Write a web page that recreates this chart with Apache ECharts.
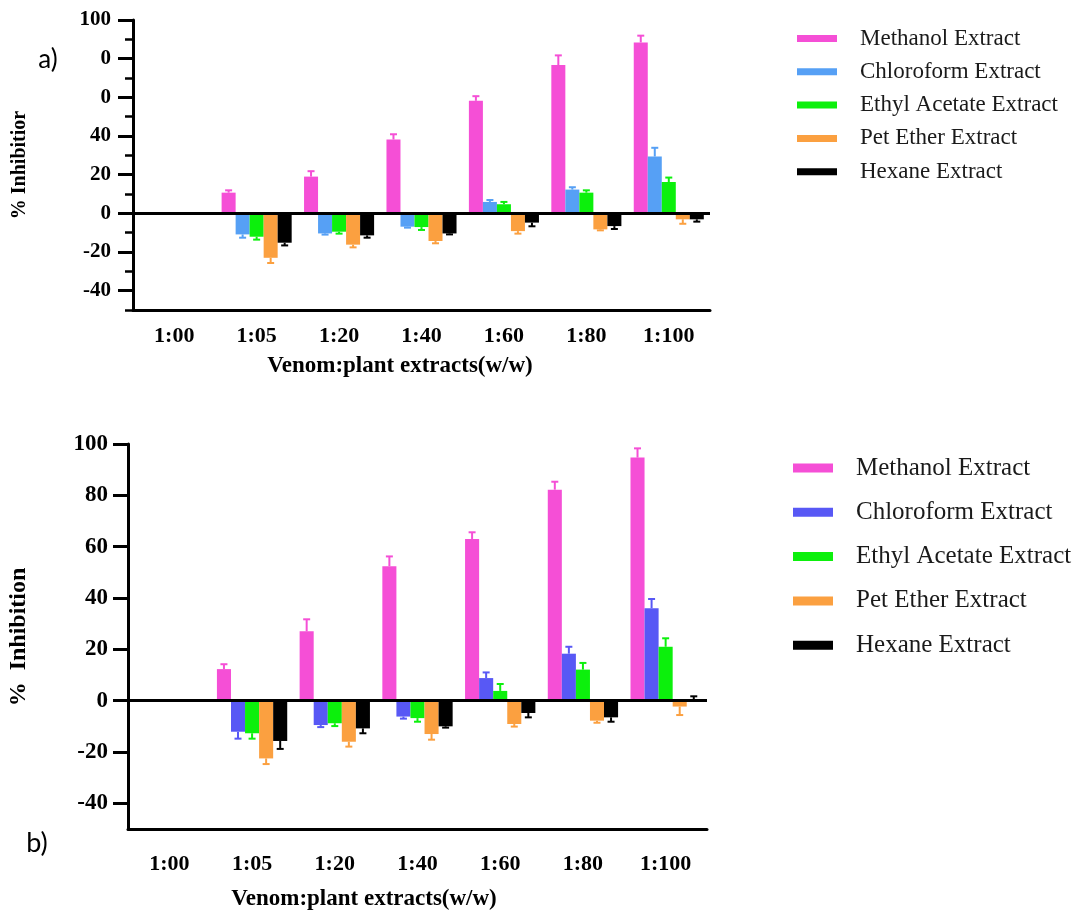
<!DOCTYPE html>
<html>
<head>
<meta charset="utf-8">
<script src="https://cdn.jsdelivr.net/npm/echarts@6/dist/echarts.min.js"></script>
<style>
  html, body { margin: 0; padding: 0; background: #fff; }
  #chartA { position: absolute; left: 0; top: 0; width: 1074px; height: 420px; }
  #chartB { position: absolute; left: 0; top: 420px; width: 1074px; height: 495px; }
</style>
</head>
<body>
<div id="chartA"></div>
<div id="chartB"></div>
<script>
const ratios = ['1:00', '1:05', '1:20', '1:40', '1:60', '1:80', '1:100']
const extractNames = ['Methanol Extract', 'Chloroform Extract', 'Ethyl Acetate Extract', 'Pet Ether Extract', 'Hexane Extract']

// panel a)
const methanolA = [null, 10.7, 19.0, 38.2, 58.2, 76.7, 88.4]
const methanolErrA = [null, 1.2, 2.8, 2.7, 2.4, 5.0, 3.5]
const chloroformA = [null, -10.9, -10.4, -6.9, 5.9, 12.3, 29.4]
const chloroformErrA = [null, 1.7, 0.6, 0.5, 1.0, 1.2, 4.5]
const ethylA = [null, -12.1, -9.5, -7.1, 4.7, 10.7, 16.2]
const ethylErrA = [null, 1.5, 1.0, 1.5, 1.2, 1.2, 2.3]
const petA = [null, -23.0, -16.2, -14.3, -9.2, -8.3, -3.1]
const petErrA = [null, 2.7, 1.4, 1.2, 1.3, 0.5, 2.3]
const hexaneA = [null, -15.2, -11.4, -10.4, -4.8, -6.6, -3.1]
const hexaneErrA = [null, 1.4, 1.2, 0.5, 1.9, 1.5, 1.2]

// panel b)
const methanolB = [null, 12.3, 27.0, 52.4, 63.0, 82.2, 94.7]
const methanolErrB = [null, 1.9, 4.7, 3.8, 2.6, 3.1, 3.6]
const chloroformB = [null, -12.1, -9.5, -6.2, 8.8, 18.3, 36.0]
const chloroformErrB = [null, 2.7, 0.8, 0.8, 2.2, 2.7, 3.6]
const ethylB = [null, -12.7, -8.8, -6.8, 3.8, 12.1, 21.0]
const ethylErrB = [null, 2.1, 1.1, 1.4, 2.7, 2.6, 3.3]
const petB = [null, -22.5, -16.0, -13.0, -9.1, -7.8, -2.3]
const petErrB = [null, 2.2, 1.9, 2.2, 1.0, 0.8, 3.3]
const hexaneB = [null, -15.7, -10.8, -10.0, -4.8, -6.5, 0.3]
const hexaneErrB = [null, 3.1, 1.9, 0.5, 1.7, 1.7, 1.4]

const yTickValues = [-40, -20, 0, 20, 40, 60, 80, 100]
const yTickLabelsA = ['-40', '-20', '0', '20', '40', '0', '0', '100']
const yTickLabelsB = ['-40', '-20', '0', '20', '40', '60', '80', '100']

const colorsA = ['#f54fd6', '#56a0f5', '#0cf00c', '#fba040', '#000000']
const colorsB = ['#f54fd6', '#5858f5', '#0cf00c', '#fba040', '#000000']

const serif = 'Liberation Serif'
const BAR_SHARE = 0.17

function buildOption(cfg) {
  const errData = []
  cfg.values.forEach((vals, s) => {
    vals.forEach((v, j) => {
      if (v !== null) errData.push([j, v, cfg.errors[s][j], s])
    })
  })

  const bars = cfg.values.map((vals, s) => ({
    name: extractNames[s],
    type: 'bar',
    data: vals,
    barWidth: BAR_SHARE * 100 + '%',
    barGap: '0%',
    itemStyle: { color: cfg.colors[s] },
    markLine: s === 0 ? {
      silent: true,
      symbol: 'none',
      label: { show: false },
      lineStyle: { color: '#000', width: 3, type: 'solid' },
      data: [{ yAxis: 0 }]
    } : undefined
  }))

  return {
    animation: false,
    grid: cfg.grid,
    legend: {
      data: extractNames,
      orient: 'vertical',
      left: cfg.legend.left,
      top: cfg.legend.top,
      padding: 0,
      icon: 'rect',
      itemWidth: 40,
      itemHeight: cfg.legend.symbolHeight,
      itemGap: cfg.legend.gap,
      textStyle: {
        fontFamily: serif,
        fontSize: cfg.legend.fontSize,
        lineHeight: cfg.legend.lineHeight,
        color: '#1a1a1a',
        padding: [0, 0, 0, 18]
      }
    },
    xAxis: {
      type: 'category',
      data: ratios,
      boundaryGap: true,
      axisLine: { onZero: false, lineStyle: { color: '#000', width: 3 } },
      axisTick: { alignWithLabel: true, length: cfg.xTickLen, lineStyle: { color: '#000', width: 3 } },
      axisLabel: {
        color: '#000', fontFamily: serif, fontWeight: 'bold',
        fontSize: cfg.xFont, margin: cfg.xMargin
      }
    },
    yAxis: [
      {
        type: 'value', min: -50, max: 100, interval: 10,
        axisLine: { show: true, lineStyle: { color: '#000', width: 3 } },
        axisTick: { show: true, customValues: yTickValues, length: 15, lineStyle: { color: '#000', width: 3 } },
        axisLabel: {
          customValues: yTickValues,
          formatter: (v) => cfg.yLabels[yTickValues.indexOf(v)],
          color: '#000', fontFamily: serif, fontWeight: 'bold',
          fontSize: cfg.yFont, margin: cfg.yMargin
        },
        splitLine: { show: false }
      },
      {
        type: 'value', min: -50, max: 100, interval: 10, position: 'left',
        axisLine: { show: false },
        axisTick: { show: cfg.minorTicks, length: 8, lineStyle: { color: '#000', width: 2.5 } },
        axisLabel: { show: false },
        splitLine: { show: false }
      }
    ],
    graphic: [
      {
        type: 'text', x: cfg.tag.x, y: cfg.tag.y,
        style: { text: cfg.tag.text, font: cfg.tag.size + 'px Lato', fill: '#000', textAlign: 'center', textVerticalAlign: 'middle' }
      },
      {
        type: 'text', x: cfg.yTitle.x, y: cfg.yTitle.y, rotation: Math.PI / 2,
        style: { text: cfg.yTitle.text, font: 'bold ' + cfg.yTitle.size + 'px "' + serif + '"', fill: '#000', textAlign: 'center', textVerticalAlign: 'middle' }
      },
      {
        type: 'text', x: cfg.xTitle.x, y: cfg.xTitle.y,
        style: { text: 'Venom:plant extracts(w/w)', font: 'bold ' + cfg.xTitle.size + 'px "' + serif + '"', fill: '#000', textAlign: 'center', textVerticalAlign: 'middle' }
      }
    ],
    series: bars.concat([{
      type: 'custom',
      name: 'error',
      data: errData,
      encode: { x: 0, y: 1 },
      z: 3,
      silent: true,
      renderItem(params, api) {
        const j = api.value(0)
        const v = api.value(1)
        const e = api.value(2)
        const s = api.value(3)
        const band = api.size([1, 0])[0]
        const x = api.coord([j, 0])[0] + (s - 2) * band * BAR_SHARE
        const yBar = api.coord([j, v])[1]
        const yEnd = api.coord([j, v >= 0 ? v + e : v - e])[1]
        const style = { stroke: cfg.colors[s], lineWidth: 2 }
        return {
          type: 'group',
          children: [
            { type: 'line', shape: { x1: x, y1: yBar, x2: x, y2: yEnd }, style },
            { type: 'line', shape: { x1: x - 3.5, y1: yEnd, x2: x + 3.5, y2: yEnd }, style }
          ]
        }
      }
    }])
  }
}

const chartA = echarts.init(document.getElementById('chartA'))
chartA.setOption(buildOption({
  values: [methanolA, chloroformA, ethylA, petA, hexaneA],
  errors: [methanolErrA, chloroformErrA, ethylErrA, petErrA, hexaneErrA],
  colors: colorsA,
  grid: { left: 133, top: 20, width: 577, height: 290 },
  legend: { left: 797, top: 26.5, symbolHeight: 7, gap: 9.3, fontSize: 23, lineHeight: 24 },
  xTickLen: 10, xFont: 22, xMargin: 15,
  yLabels: yTickLabelsA, yFont: 21, yMargin: 22,
  minorTicks: true,
  tag: { text: 'a)', x: 48, y: 60, size: 26 },
  yTitle: { text: '% Inhibitior', x: 20, y: 165, size: 20 },
  xTitle: { x: 400, y: 366, size: 23 }
}))

const chartB = echarts.init(document.getElementById('chartB'))
chartB.setOption(buildOption({
  values: [methanolB, chloroformB, ethylB, petB, hexaneB],
  errors: [methanolErrB, chloroformErrB, ethylErrB, petErrB, hexaneErrB],
  colors: colorsB,
  grid: { left: 128, top: 24, width: 579, height: 385 },
  legend: { left: 793, top: 34.5, symbolHeight: 9, gap: 17.3, fontSize: 25, lineHeight: 27 },
  xTickLen: 15, xFont: 22, xMargin: 24,
  yLabels: yTickLabelsB, yFont: 23, yMargin: 20,
  minorTicks: false,
  tag: { text: 'b)', x: 37, y: 423, size: 27 },
  yTitle: { text: '%  Inhibition', x: 19, y: 217, size: 24 },
  xTitle: { x: 364, y: 479, size: 23 }
}))
</script>
</body>
</html>
